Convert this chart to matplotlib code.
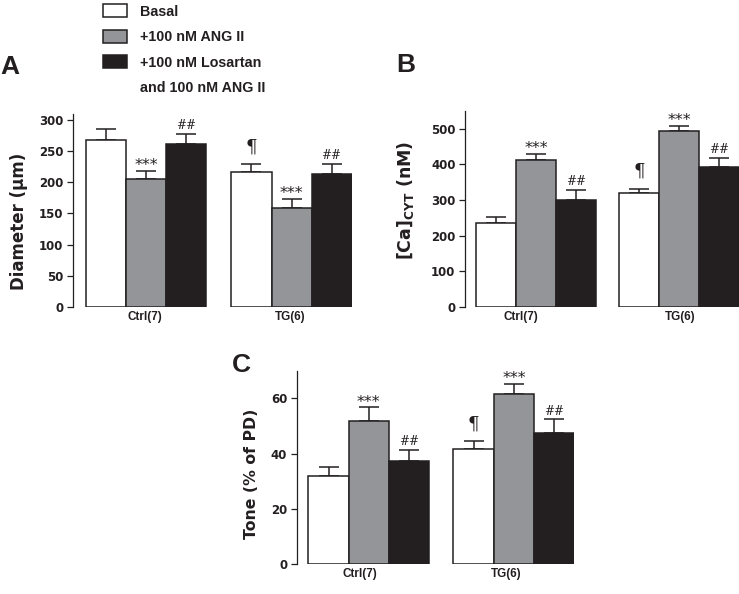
import numpy as np
import matplotlib
matplotlib.use("Agg")
import matplotlib.pyplot as plt
from matplotlib.patches import Rectangle

plt.rcParams["font.family"] = ["Liberation Sans", "DejaVu Sans"]
plt.rcParams["font.weight"] = "bold"
plt.rcParams["mathtext.fontset"] = "custom"
plt.rcParams["mathtext.rm"] = "DejaVu Sans:bold"
plt.rcParams["mathtext.bf"] = "DejaVu Sans:bold"

# -----------------------------------------------------------------------
# Data
# -----------------------------------------------------------------------
groups = ["Ctrl(7)", "TG(6)"]
conditions = ["Basal", "+100 nM ANG II", "+100 nM Losartan", "and 100 nM ANG II"]
cond_colors = ["white", "#939598", "#231f20"]

# rows = groups, cols = conditions
diam_mean = np.array([[268, 205, 261], [216, 158, 213]])
diam_err = np.array([[18, 13, 17], [13, 15, 16]])

ca_mean = np.array([[235, 412, 300], [319, 495, 394]])
ca_err = np.array([[16, 18, 28], [13, 13, 23]])

tone_mean = np.array([[31.9, 51.7, 37.3], [41.7, 61.4, 47.6]])
tone_err = np.array([[3.2, 5.1, 3.9], [2.8, 3.8, 4.8]])

marks = [["", "***", "##"], ["\u00b6", "***", "##"]]

W, H = 739, 594
fig = plt.figure(figsize=(W / 100, H / 100), dpi=100)

INK = "#231f20"


def px_rect(x0, x1, y_bottom, y_top):
    """Axes rect from pixel coords (origin top-left)."""
    return [x0 / W, 1 - y_bottom / H, (x1 - x0) / W, (y_bottom - y_top) / H]


def draw_panel(rect, mean, err, ylabel, ylim, yticks, xlim, gap, labelpad,
               label_y, label_size, tick_shift):
    ax = fig.add_axes(rect)
    bars = []
    for g in range(len(groups)):
        xs = g * (3 + gap) + np.arange(3)
        for c in range(3):
            b = ax.bar(xs[c], mean[g, c], width=1.0, color=cond_colors[c],
                       edgecolor=INK, linewidth=1.1, zorder=2)
            bars.append(b)
            ax.errorbar(xs[c], mean[g, c], yerr=[[0], [err[g, c]]],
                        fmt="none", ecolor=INK, elinewidth=1.1,
                        capsize=7.5, capthick=1.1, zorder=1)
            m = marks[g][c]
            top = mean[g, c] + err[g, c]
            if m == "***":
                ax.annotate(m, (xs[c], top), xytext=(0, 0.5),
                            textcoords="offset points", ha="center",
                            va="baseline", fontsize=11.5, fontweight="normal",
                            family="DejaVu Sans", color=INK)
            elif m == "##":
                ax.annotate(m, (xs[c], top), xytext=(0, 3.5),
                            textcoords="offset points", ha="center",
                            va="baseline", fontsize=8.6, fontweight="normal",
                            family="DejaVu Serif", color=INK)
            elif m:
                ax.annotate(m, (xs[c], top), xytext=(0, 8.5),
                            textcoords="offset points", ha="center",
                            va="baseline", fontsize=13, fontweight="normal",
                            family="DejaVu Serif", color=INK)
    centers = [g * (3 + gap) + 1 + tick_shift[g] for g in range(len(groups))]
    ax.set_xticks(centers)
    ax.set_xticklabels(groups, fontsize=8.5, fontweight="bold", color=INK)
    ax.tick_params(axis="x", length=0, pad=3)
    ax.set_yticks(yticks)
    ax.tick_params(axis="y", direction="out", length=4.3, width=0.9,
                   labelsize=8.5, pad=2.5, color=INK, labelcolor=INK)
    for lab in ax.get_yticklabels():
        lab.set_fontweight("bold")
        lab.set_family("DejaVu Sans")
    ax.set_xlim(*xlim)
    ax.set_ylim(*ylim)
    for s in ["top", "right", "bottom"]:
        ax.spines[s].set_visible(False)
    ax.spines["left"].set_linewidth(0.9)
    ax.spines["left"].set_color(INK)
    ax.set_ylabel(ylabel, fontsize=label_size, fontweight="bold",
                  labelpad=labelpad, family="DejaVu Sans", color=INK)
    ax.yaxis.label.set_y(label_y)
    ax.patch.set_alpha(0)
    return ax, bars


axA, barsA = draw_panel(px_rect(72.7, 351.9, 306.7, 114), diam_mean, diam_err,
                        "Diameter (\u03bcm)", (0, 310), np.arange(0, 301, 50),
                        (-0.83, 6.15), 0.64, 8.0, 0.445, 12, (-0.03, -0.03))
axB, barsB = draw_panel(px_rect(465, 739.4, 306.7, 111), ca_mean, ca_err,
                        r"[Ca]$_{\mathbf{CYT}}$ (nM)", (0, 550),
                        np.arange(0, 501, 100), (-0.775, 6.085), 0.585, 10.5,
                        0.541, 12.5, (-0.39, 0.03))
axC, barsC = draw_panel(px_rect(296.7, 574.4, 564.3, 370.7), tone_mean, tone_err,
                        "Tone (% of PD)", (0, 70), np.arange(0, 61, 20),
                        (-0.79, 6.1), 0.6, 8.5, 0.466, 11.3, (-0.22, -0.19))

# panel letters
for letter, (x, y) in zip("ABC", [(0, 74), (396.7, 72.3), (231.7, 371.7)]):
    fig.text(x / W, 1 - y / H, letter, fontsize=19, fontweight="bold",
             va="baseline", ha="left", color=INK)

# legend (the last line is a continuation of the third label)
blank = Rectangle((0, 0), 1, 1, visible=False)
handles = [barsA[0], barsA[1], barsA[2], blank]
leg = fig.legend(handles, conditions, loc="upper left",
                 bbox_to_anchor=(102.7 / W, 1 - 4.0 / H), frameon=False,
                 borderpad=0, borderaxespad=0, handlelength=1.68,
                 handleheight=1.05, handletextpad=0.93, labelspacing=0.77,
                 prop={"size": 10.3, "weight": "bold"})
for t in leg.get_texts():
    t.set_color(INK)

fig.savefig("out.png", dpi=100)
